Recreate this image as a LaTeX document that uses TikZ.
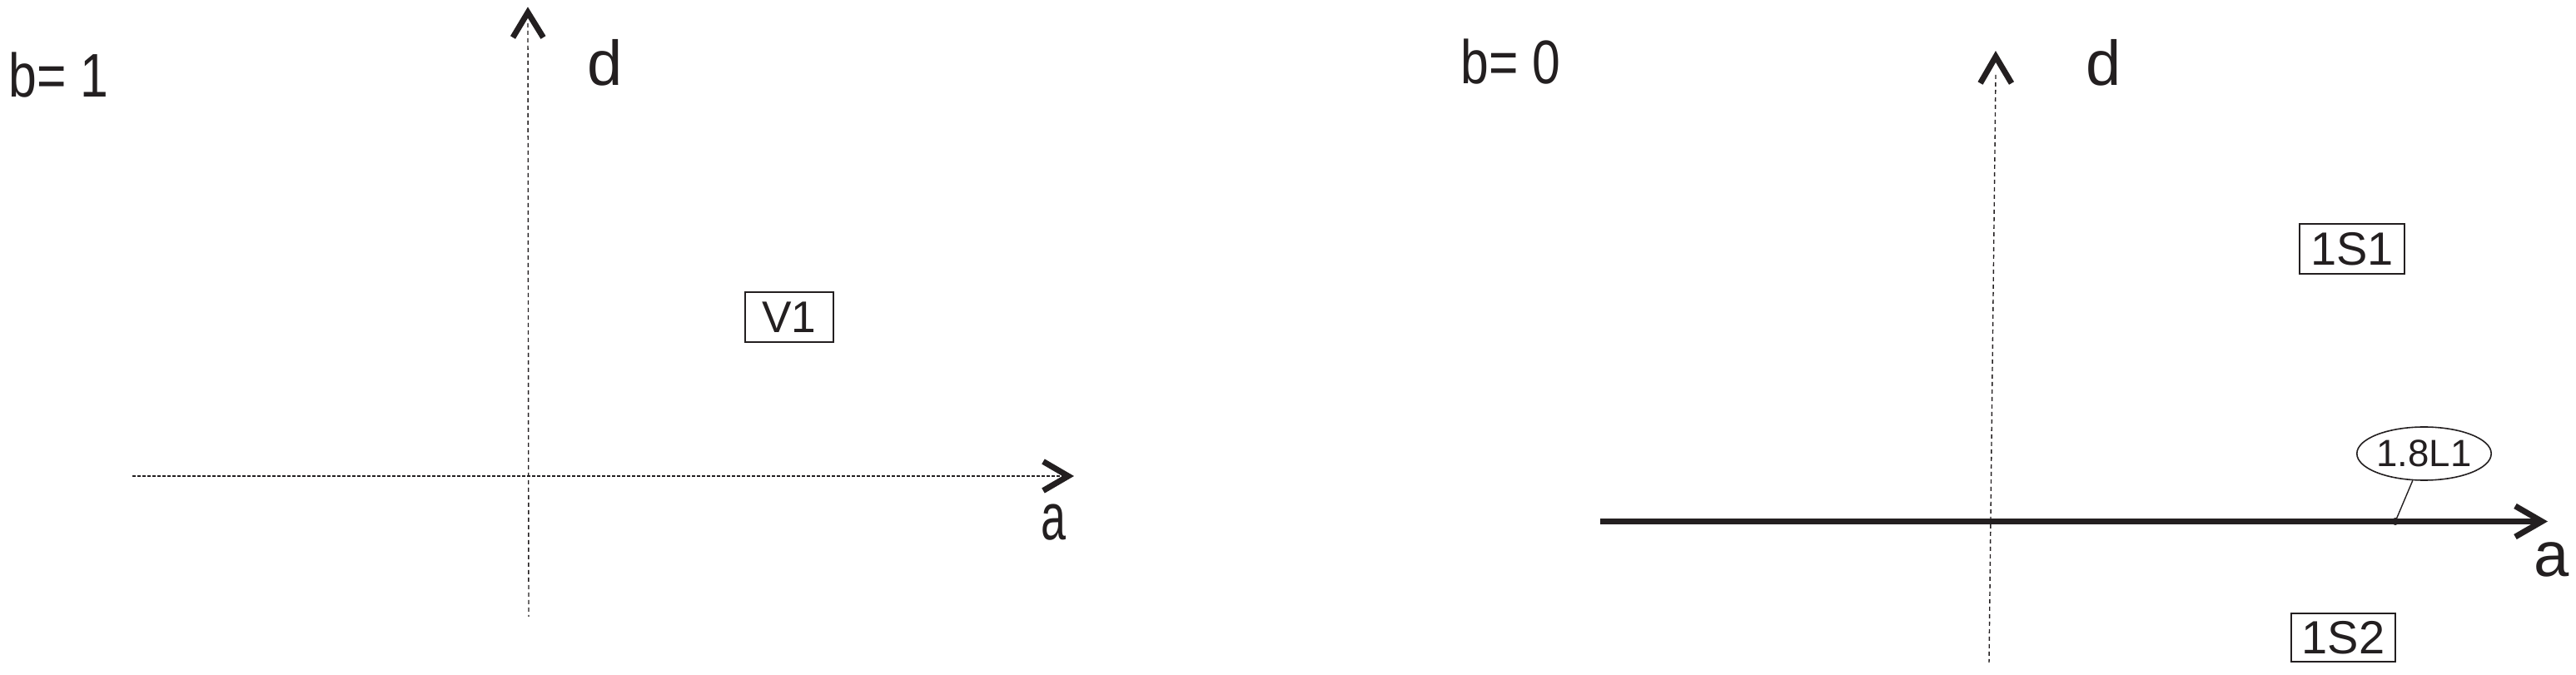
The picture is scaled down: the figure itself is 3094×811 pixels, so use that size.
\documentclass[tikz,border=0pt]{standalone}
\usepackage{fontspec}
\setmainfont{Liberation Sans}
\usetikzlibrary{shapes.geometric}
\definecolor{ink}{HTML}{231F20}
\tikzset{
  axisdash/.style={ink, line width=0.35pt, dash pattern=on 1.25pt off 1pt},
  axisdot/.style={ink, line width=0.35pt, dash pattern=on 0.9pt off 0.6pt},
  axisthick/.style={ink, line width=1.75pt},
  chev/.style={ink, line width=1.75pt, line cap=butt, line join=miter},
  lbl/.style={ink, inner sep=0pt, font=\fontsize{18.5pt}{20pt}\selectfont},
  blbl/.style={lbl, xscale=0.82},
  boxlbl/.style={ink, draw=ink, line width=0.4pt, inner sep=0pt, font=\fontsize{14pt}{16pt}\selectfont},
  ovallbl/.style={ink, draw=ink, line width=0.4pt, ellipse, inner sep=0pt, font=\fontsize{11.4pt}{13pt}\selectfont},
}
\begin{document}
\begin{tikzpicture}[x=0.25pt,y=-0.25pt]
\useasboundingbox[fill=white] (0,0) rectangle (3094,811);
% ---------- left panel (b = 1) ----------
\node[blbl] (b1) at (70.5,90.5) {b= 1};
\node[lbl, font=\fontsize{19pt}{20pt}\selectfont] (d1) at (727,75.5) {d};
\node[lbl, font=\fontsize{19.8pt}{20pt}\selectfont, xscale=0.68] (a1) at (1265.5,628) {a};
\coordinate (v1top) at (634,28);
\coordinate (v1tip) at (634,15);
\coordinate (v1bot) at (635,741);
\coordinate (h1left) at (159,572);
\coordinate (h1tip) at (1283,572);
\draw[axisdash] (v1top) -- (v1bot);
\draw[axisdot] (h1left) -- (h1tip);
\draw[chev] (v1tip) ++(-18,30) -- (v1tip) -- ++(18.5,30);
\draw[chev] (h1tip) ++(-30,-17.5) -- (h1tip) -- ++(-30,17.5);
\node[boxlbl, font=\fontsize{13.3pt}{15pt}\selectfont, minimum width=26.5pt, minimum height=15pt] (V1) at (948,381) {V1};
% ---------- right panel (b = 0) ----------
\node[blbl] (b0) at (1814.5,74.5) {b= 0};
\node[lbl, font=\fontsize{19pt}{20pt}\selectfont] (d0) at (2526.5,75.5) {d};
\node[lbl, font=\fontsize{19pt}{20pt}\selectfont] (a0) at (3064.5,672) {a};
\coordinate (v0top) at (2397,90);
\coordinate (v0tip) at (2397,68);
\coordinate (v0bot) at (2389,796);
\coordinate (h0left) at (1922,626.5);
\coordinate (h0tip) at (3053,626.5);
\draw[axisdash] (v0top) -- (v0bot);
\draw[axisthick] (h0left) -- (h0tip);
\draw[chev] (v0tip) ++(-18.5,32) -- (v0tip) -- ++(19,32);
\draw[chev] (h0tip) ++(-32,-18.5) -- (h0tip) -- ++(-32,18.5);
\node[boxlbl, minimum width=31.5pt, minimum height=15pt] (S1) at (2825,299) {1S1};
\node[boxlbl, minimum width=31.25pt, minimum height=14.5pt] (S2) at (2814.5,766) {1S2};
\node[ovallbl, minimum width=38.25pt, minimum height=16pt] (L1) at (2911.5,545) {1.8L1};
\coordinate (dot) at (2877,626.5);
\fill[ink] (dot) circle (4.5);
\draw[ink, line width=0.35pt] (dot) -- (L1);
\end{tikzpicture}
\end{document}
